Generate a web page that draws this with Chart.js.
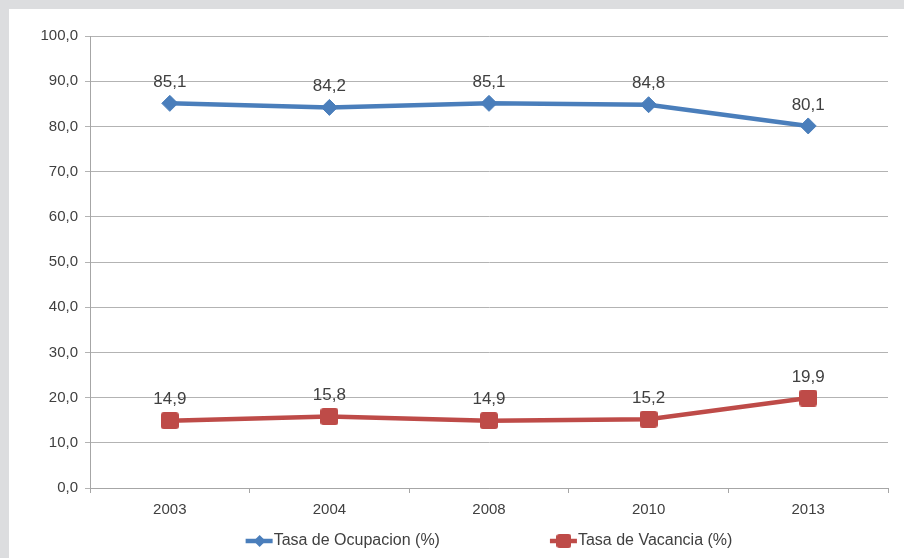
<!DOCTYPE html>
<html>
<head>
<meta charset="utf-8">
<script src="https://cdn.jsdelivr.net/npm/chart.js@4.4.1/dist/chart.umd.min.js"></script>
<style>
  html, body { margin: 0; padding: 0; background: #dcdddf; }
  #panel { position: absolute; left: 9px; top: 9px; width: 895px; height: 549px; background: #ffffff; }
  canvas { display: block; }
</style>
</head>
<body>
<div id="panel"><canvas id="c" width="895" height="549"></canvas></div>
<script>
// Años de la serie
const years = ['2003', '2004', '2008', '2010', '2013'];
// Tasa de ocupación y de vacancia (%)
const ocupacion = [85.1, 84.2, 85.1, 84.8, 80.1];
const vacancia = [14.9, 15.8, 14.9, 15.2, 19.9];
// Nombres de las series
const seriesNames = ['Tasa de Ocupacion (%)', 'Tasa de Vacancia (%)'];

const BLUE = '#4a7ebb';
const RED = '#be4b48';
const TEXT = '#404040';
const FONT = '"Liberation Sans", Arial, sans-serif';

const fmt = v => Number(v).toFixed(1).replace('.', ',');

// Marcador cuadrado con esquinas ligeramente redondeadas
function roundedSquare(w, h, r, color) {
  const c = document.createElement('canvas');
  c.width = w; c.height = h;
  const g = c.getContext('2d');
  g.fillStyle = color;
  g.beginPath();
  g.moveTo(r, 0);
  g.arcTo(w, 0, w, h, r);
  g.arcTo(w, h, 0, h, r);
  g.arcTo(0, h, 0, 0, r);
  g.arcTo(0, 0, w, 0, r);
  g.closePath();
  g.fill();
  return c;
}
const redPoint = roundedSquare(18, 17, 3, RED);
const redLegendPoint = roundedSquare(15, 14, 3, RED);

// Etiquetas de valor sobre cada punto
const valueLabels = {
  id: 'valueLabels',
  afterDatasetsDraw(chart) {
    const ctx = chart.ctx;
    ctx.save();
    ctx.font = '17px ' + FONT;
    ctx.fillStyle = TEXT;
    ctx.textAlign = 'center';
    ctx.textBaseline = 'middle';
    chart.data.datasets.forEach((ds, i) => {
      chart.getDatasetMeta(i).data.forEach((pt, j) => {
        ctx.fillText(fmt(ds.data[j]), pt.x, pt.y - 21);
      });
    });
    ctx.restore();
  }
};

// Leyenda inferior con línea y marcador
const lineLegend = {
  id: 'lineLegend',
  afterDraw(chart) {
    const ctx = chart.ctx;
    const area = chart.chartArea;
    const y = 532;
    const gap = 110;
    const symW = 28;
    ctx.save();
    ctx.font = '16px ' + FONT;
    ctx.textBaseline = 'middle';
    const widths = chart.data.datasets.map(ds => symW + ctx.measureText(ds.label).width);
    const total = widths.reduce((a, b) => a + b, 0) + gap * (widths.length - 1);
    let x = (area.left + area.right) / 2 - total / 2;
    chart.data.datasets.forEach((ds, i) => {
      ctx.strokeStyle = ds.borderColor;
      ctx.lineWidth = 4.5;
      ctx.beginPath();
      ctx.moveTo(x, y);
      ctx.lineTo(x + symW - 1, y);
      ctx.stroke();
      const cx = x + symW / 2;
      if (i === 0) {
        ctx.fillStyle = ds.borderColor;
        Chart.helpers.drawPoint(ctx, { pointStyle: 'rectRot', radius: 6, borderWidth: 0, rotation: 0 }, cx, y);
      } else {
        ctx.drawImage(redLegendPoint, cx - redLegendPoint.width / 2, y - redLegendPoint.height / 2);
      }
      ctx.fillStyle = TEXT;
      ctx.textAlign = 'left';
      ctx.fillText(ds.label, x + symW, y);
      x += widths[i] + gap;
    });
    ctx.restore();
  }
};

new Chart(document.getElementById('c'), {
  type: 'line',
  data: {
    labels: years,
    datasets: [
      {
        label: seriesNames[0],
        data: ocupacion,
        borderColor: BLUE,
        backgroundColor: BLUE,
        borderWidth: 4.5,
        pointStyle: 'rectRot',
        pointRadius: 8,
        pointBorderWidth: 1,
        pointBackgroundColor: BLUE,
        pointBorderColor: BLUE,
        tension: 0
      },
      {
        label: seriesNames[1],
        data: vacancia,
        borderColor: RED,
        backgroundColor: RED,
        borderWidth: 4.5,
        pointStyle: redPoint,
        pointRadius: 9,
        tension: 0
      }
    ]
  },
  options: {
    responsive: false,
    animation: false,
    layout: { padding: { left: 0, top: 27, right: 16, bottom: 0 } },
    plugins: {
      legend: { display: false },
      tooltip: { enabled: false }
    },
    scales: {
      x: {
        offset: true,
        grid: {
          offset: true,
          drawOnChartArea: false,
          drawTicks: true,
          tickLength: 5,
          color: '#a6a6a6'
        },
        border: { display: true, color: '#a6a6a6', width: 1 },
        ticks: {
          color: TEXT,
          font: { family: FONT, size: 15 },
          padding: 8,
          maxRotation: 0
        },
        afterFit(scale) { scale.height = 70; }
      },
      y: {
        min: 0,
        max: 100,
        grid: {
          color: '#b3b3b3',
          tickLength: 5,
          drawTicks: true
        },
        border: { display: true, color: '#a6a6a6', width: 1 },
        ticks: {
          stepSize: 10,
          color: TEXT,
          font: { family: FONT, size: 15 },
          padding: 7,
          callback: v => fmt(v)
        },
        afterFit(scale) { scale.width = 81; }
      }
    }
  },
  plugins: [valueLabels, lineLegend]
});
</script>
</body>
</html>
